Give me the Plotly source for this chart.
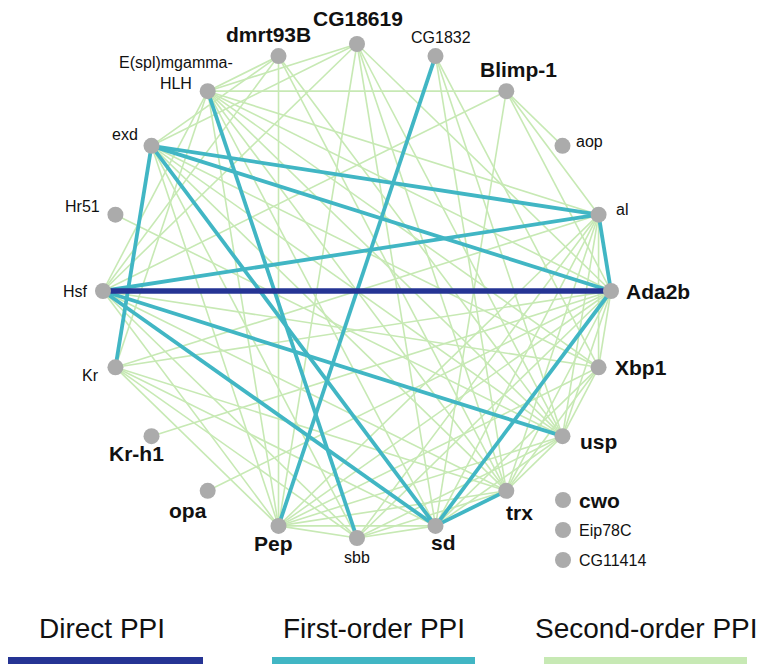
import numpy as np
import plotly.graph_objects as go

# ---------------- data ----------------
ring_nodes = ["Ada2b", "al", "aop", "Blimp-1", "CG1832", "CG18619", "dmrt93B",
              "E(spl)mgamma-HLH", "exd", "Hr51", "Hsf", "Kr", "Kr-h1", "opa",
              "Pep", "sbb", "sd", "trx", "usp", "Xbp1"]
isolated_nodes = ["cwo", "Eip78C", "CG11414"]
bold_nodes = ["Ada2b", "Blimp-1", "CG18619", "dmrt93B", "Kr-h1", "opa", "Pep",
              "sd", "trx", "usp", "Xbp1", "cwo"]

direct_edges = [("Hsf", "Ada2b")]

first_order_edges = [
    ("Hsf", "al"), ("exd", "al"), ("exd", "Ada2b"), ("exd", "sd"), ("exd", "Kr"),
    ("E(spl)mgamma-HLH", "sbb"), ("CG1832", "Pep"), ("Hsf", "usp"), ("Hsf", "sd"),
    ("al", "Ada2b"), ("Ada2b", "sd"), ("sd", "trx"),
]

second_order_edges = [
    ("Blimp-1", "aop"), ("Blimp-1", "E(spl)mgamma-HLH"), ("Blimp-1", "al"),
    ("Blimp-1", "Ada2b"), ("Blimp-1", "sd"), ("Blimp-1", "Hsf"),
    ("CG1832", "trx"), ("CG1832", "usp"), ("CG1832", "Xbp1"),
    ("CG18619", "E(spl)mgamma-HLH"), ("CG18619", "exd"), ("CG18619", "Hsf"),
    ("CG18619", "Pep"), ("CG18619", "sd"), ("CG18619", "trx"), ("CG18619", "usp"),
    ("CG18619", "Ada2b"),
    ("dmrt93B", "E(spl)mgamma-HLH"), ("dmrt93B", "exd"), ("dmrt93B", "Hsf"),
    ("dmrt93B", "Pep"), ("dmrt93B", "usp"), ("dmrt93B", "trx"),
    ("E(spl)mgamma-HLH", "Hsf"), ("E(spl)mgamma-HLH", "Kr"), ("E(spl)mgamma-HLH", "Pep"),
    ("E(spl)mgamma-HLH", "sd"), ("E(spl)mgamma-HLH", "trx"), ("E(spl)mgamma-HLH", "usp"),
    ("E(spl)mgamma-HLH", "Xbp1"), ("E(spl)mgamma-HLH", "Ada2b"), ("E(spl)mgamma-HLH", "al"),
    ("exd", "sbb"), ("exd", "trx"), ("exd", "usp"), ("exd", "Xbp1"), ("exd", "Pep"),
    ("Hr51", "usp"),
    ("Hsf", "Pep"), ("Hsf", "sbb"), ("Hsf", "trx"), ("Hsf", "Xbp1"),
    ("Kr", "al"), ("Kr", "Ada2b"), ("Kr", "Pep"), ("Kr", "sbb"), ("Kr", "sd"), ("Kr", "trx"),
    ("Kr-h1", "Ada2b"), ("opa", "Ada2b"),
    ("Pep", "sbb"), ("Pep", "sd"), ("Pep", "trx"), ("Pep", "usp"), ("Pep", "Xbp1"),
    ("Pep", "Ada2b"), ("Pep", "al"),
    ("sbb", "sd"), ("sbb", "trx"), ("sbb", "usp"), ("sbb", "al"), ("sbb", "Ada2b"),
    ("sd", "usp"), ("sd", "Xbp1"), ("sd", "al"),
    ("trx", "usp"), ("trx", "Xbp1"), ("trx", "al"), ("trx", "Ada2b"),
    ("usp", "Xbp1"), ("usp", "al"), ("usp", "Ada2b"),
    ("Xbp1", "al"), ("Xbp1", "Ada2b"),
]

legend_labels = ["Direct PPI", "First-order PPI", "Second-order PPI"]

# ---------------- styles ----------------
C_DIRECT = "#253494"
C_FIRST = "#41b6c4"
C_SECOND = "#c7e9b4"
C_NODE = "#ababab"
FONT = "Arial, Liberation Sans, sans-serif"

W, H = 767, 669
OFF = 8  # default page body margin
cx, cy, rx, ry = 357, 291, 254, 247

pos = {}
n = len(ring_nodes)
for k, name in enumerate(ring_nodes):
    a = np.deg2rad(360.0 * k / n)
    pos[name] = (cx + rx * np.cos(a), cy - ry * np.sin(a))
for i, name in enumerate(isolated_nodes):
    pos[name] = (563, 500 + 30 * i)


def edge_xy(edges):
    xs, ys = [], []
    for a, b in edges:
        xs += [pos[a][0], pos[b][0], None]
        ys += [pos[a][1], pos[b][1], None]
    return xs, ys


fig = go.Figure()
for edges, col, w in [(second_order_edges, C_SECOND, 1.6),
                      (first_order_edges, C_FIRST, 3.8),
                      (direct_edges, C_DIRECT, 5.5)]:
    xs, ys = edge_xy(edges)
    fig.add_trace(go.Scatter(x=xs, y=ys, mode="lines",
                             line=dict(color=col, width=w),
                             hoverinfo="skip", showlegend=False))

all_nodes = ring_nodes + isolated_nodes
fig.add_trace(go.Scatter(x=[pos[k][0] for k in all_nodes],
                         y=[pos[k][1] for k in all_nodes],
                         mode="markers", text=all_nodes, hoverinfo="text",
                         marker=dict(size=16, color=C_NODE, line=dict(width=0)),
                         showlegend=False))

# label offsets (dx, dy, xanchor)
label_off = {
    "Ada2b": (13, 0, "left"), "al": (15, -5, "left"), "aop": (12, -4, "left"),
    "Blimp-1": (12, -22, "center"), "CG1832": (6, -19, "center"),
    "CG18619": (1, -26, "center"), "dmrt93B": (-10, -22, "center"),
    "E(spl)mgamma-HLH": (-32, -18, "center"), "exd": (-12, -11, "right"),
    "Hr51": (-13, -8, "right"), "Hsf": (-13, 0, "right"), "Kr": (-14, 8, "right"),
    "Kr-h1": (-15, 17, "center"), "opa": (-20, 20, "center"), "Pep": (-5, 18, "center"),
    "sbb": (0, 19, "center"), "sd": (8, 17, "center"), "trx": (13, 22, "center"),
    "usp": (16, 5, "left"), "Xbp1": (14, 0, "left"),
    "cwo": (14, 0, "left"), "Eip78C": (14, 0, "left"), "CG11414": (14, 0, "left"),
}

annotations = []
for name in all_nodes:
    dx, dy, xa = label_off[name]
    bold = name in bold_nodes
    txt = "E(spl)mgamma-<br>HLH" if name == "E(spl)mgamma-HLH" else name
    if bold:
        txt = "<b>" + txt + "</b>"
    annotations.append(dict(x=pos[name][0] + dx, y=pos[name][1] + dy, xref="x", yref="y",
                            text=txt, showarrow=False, xanchor=xa, yanchor="middle",
                            font=dict(family=FONT, size=21 if bold else 16, color="#111111")))

shapes = []
for i, (lab, col) in enumerate(zip(legend_labels, [C_DIRECT, C_FIRST, C_SECOND])):
    x0 = 272 * i + (OFF if i == 0 else 0)
    x1 = 272 * i + 203
    shapes.append(dict(type="rect", xref="x", yref="y", x0=x0, x1=x1,
                       y0=657, y1=664, fillcolor=col, line=dict(width=0), layer="above"))
    annotations.append(dict(x=272 * i + 102, y=628, xref="x", yref="y", text=lab,
                            showarrow=False, xanchor="center", yanchor="middle",
                            font=dict(family=FONT, size=28, color="#111111")))

fig.update_layout(
    width=W - OFF, height=H - OFF, margin=dict(l=0, r=0, t=0, b=0),
    paper_bgcolor="white", plot_bgcolor="white",
    xaxis=dict(range=[OFF, W], visible=False, fixedrange=True),
    yaxis=dict(range=[H, OFF], visible=False, fixedrange=True),
    annotations=annotations, shapes=shapes, showlegend=False,
)

fig.write_html("out.html")
